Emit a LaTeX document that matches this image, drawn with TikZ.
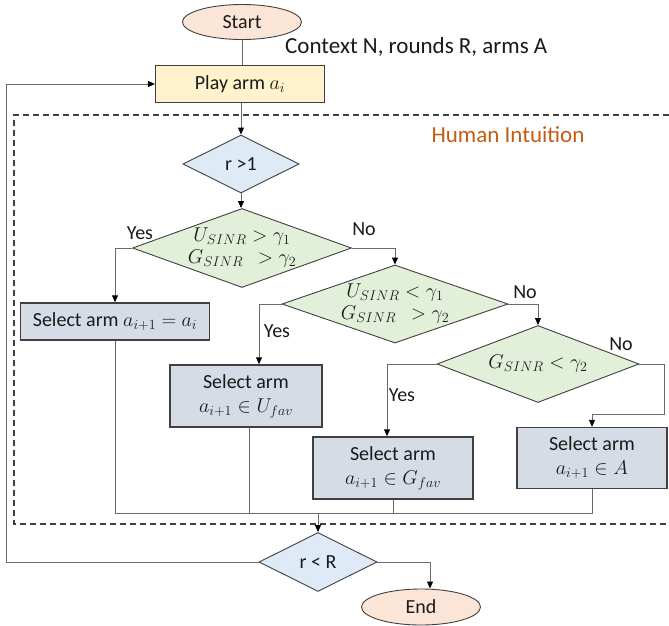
\RequirePackage{fix-cm}
\documentclass[tikz,border=0pt]{standalone}
\usepackage{fontspec}
\setmainfont{Carlito}
\usetikzlibrary{shapes.geometric,arrows.meta}
\definecolor{peach}{HTML}{FBE5D6}
\definecolor{lyellow}{HTML}{FFF2CC}
\definecolor{lblue}{HTML}{DEEBF7}
\definecolor{lgreen}{HTML}{E2F0D9}
\definecolor{lslate}{HTML}{D6DCE5}
\definecolor{brd}{HTML}{404040}
\definecolor{conn}{HTML}{6A6A6A}
\definecolor{orng}{HTML}{C55A11}
\definecolor{txt}{HTML}{1A1A1A}
\tikzset{
  base/.style={font=\fontsize{20}{24}\selectfont, text=txt, inner sep=0pt},
  term/.style={base, ellipse, draw=brd, line width=0.9pt, fill=peach},
  playbox/.style={base, rectangle, draw=brd, line width=1.1pt, fill=lyellow},
  selbox/.style={base, rectangle, draw=brd, line width=1.4pt, fill=lslate, align=center},
  bdia/.style={base, diamond, draw=brd, line width=0.9pt, fill=lblue},
  gdia/.style={base, diamond, draw=brd, line width=0.9pt, fill=lgreen},
  inlbl/.style={base, align=center},
  yn/.style={base},
  big/.style={font=\fontsize{23}{27}\selectfont, inner sep=0pt},
  conline/.style={draw=conn, line width=0.9pt},
  arr/.style={conline, -{Triangle[length=7pt,width=6pt,color=black]}},
}
\begin{document}
\begin{tikzpicture}[x=1pt,y=-1pt]
\useasboundingbox (0,0) rectangle (669,626);
% dashed region
\draw[draw=brd, line width=1.1pt, dash pattern=on 6pt off 4pt] (669,115) -- (14,115) -- (14,524) -- (669,524);

\node[term, minimum width=119pt, minimum height=35pt] (start) at (242,22) {Start};
\node[playbox, minimum width=169pt, minimum height=37pt] (play) at (240,84) {Play arm $a_i$};
\node[big, text=txt, anchor=west] (ctx) at (285,47) {Context N, rounds R, arms A};
\node[big, text=orng] (hum) at (508,135) {Human Intuition};

\node[bdia, minimum width=116pt, minimum height=58pt, label={[inlbl]center:r >1}] (r1) at (241,164) {};
\node[gdia, minimum width=219pt, minimum height=79pt,
  label={[inlbl]center:{$U_{SINR} > \gamma_1$\\[-2pt]$G_{SINR}\ \ > \gamma_2$}}] (d1) at (242,248) {};
\node[gdia, minimum width=226pt, minimum height=78pt,
  label={[inlbl]center:{$U_{SINR} < \gamma_1$\\[-2pt]$G_{SINR}\ \ > \gamma_2$}}] (d2) at (395,304) {};
\node[gdia, minimum width=202pt, minimum height=77pt,
  label={[inlbl]center:{$G_{SINR} < \gamma_2$}}] (d3) at (538,364) {};

\node[selbox, minimum width=189pt, minimum height=37pt] (s1) at (115,321.5) {Select arm $a_{i+1} = a_i$};
\node[selbox, minimum width=152pt, minimum height=62pt] (s2) at (246,396) {Select arm\\$a_{i+1} \in U_{fav}$};
\node[selbox, minimum width=160pt, minimum height=62pt] (s3) at (393,468) {Select arm\\$a_{i+1} \in G_{fav}$};
\node[selbox, minimum width=150pt, minimum height=61pt] (s4) at (592,458) {Select arm\\$a_{i+1} \in A$};

\node[bdia, minimum width=118pt, minimum height=59pt, label={[inlbl]center:r < R}] (rR) at (318,562) {};
\node[term, minimum width=119pt, minimum height=36pt] (end) at (421,607) {End};

% labels
\node[yn] (y1) at (140,233) {Yes};
\node[yn] (n1) at (364,229) {No};
\node[yn] (y2) at (277,331) {Yes};
\node[yn] (n2) at (525,292) {No};
\node[yn] (n3) at (621,344) {No};
\node[yn] (y3) at (402,395) {Yes};

% connectors
\draw[conline] (start.south) -- (start.south |- play.north);
\draw[arr] (play.south -| r1.north) -- (r1.north);
\draw[arr] (r1.south) -- (r1.south |- d1.north);
\draw[arr] (d1.west) -| (s1.north);
\draw[arr] (d1.east) -| (d2.north);
\draw[arr] (d2.west) -| ([xshift=13pt]s2.north);
\draw[arr] (d2.east) -| (d3.north);
\draw[arr] (d3.west) -| ([xshift=-6pt]s3.north);
\draw[arr] (d3.east) -- ++(25,0) |- ([yshift=12pt]s4.north) -- (s4.north);

\coordinate (join) at (318,513);
\draw[conline] (s1.south) |- (join);
\draw[conline] ([xshift=3pt]s2.south) |- (join);
\draw[conline] (s3.south) |- (join);
\draw[conline] (s4.south) |- (join);
\draw[arr] (join) -- (rR.north);

\draw[arr] (rR.east) -| ([xshift=9pt]end.north);
\draw[arr] (rR.west) -- ++(-252,0) |- (play.west);
\end{tikzpicture}
\end{document}
